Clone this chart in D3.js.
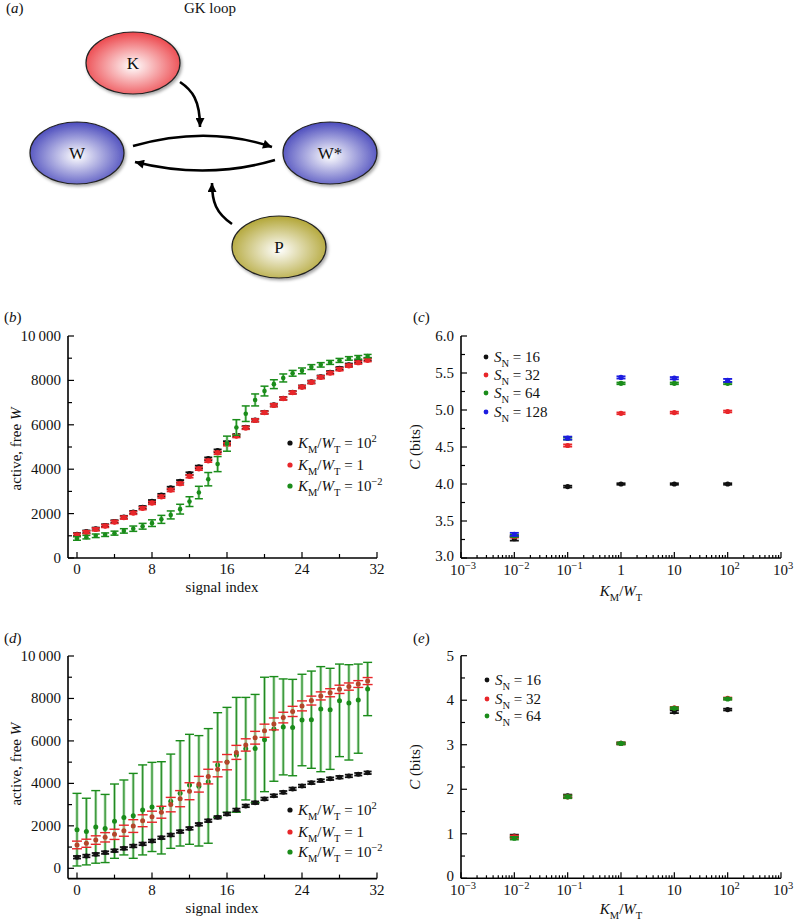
<!DOCTYPE html>
<html><head><meta charset="utf-8">
<script src="https://cdn.jsdelivr.net/npm/d3@7/dist/d3.min.js"></script>
<style>html,body{margin:0;padding:0;background:#fff}</style>
</head><body>
<script>
// ---------- DATA ----------
const signalIdx = d3.range(0, 32);
const linTicks = [0, 8, 16, 24, 32];
const wTicks = [0, 2000, 4000, 6000, 8000, 10000];
const wTickLabels = ["0", "2000", "4000", "6000", "8000", "10\u2009000"];
const logX = [0.01, 0.1, 1, 10, 100];
const logTicks = [1e-3, 1e-2, 1e-1, 1, 10, 100, 1000];
const logTickLabels = [["10", "\u22123"], ["10", "\u22122"], ["10", "\u22121"], ["1", ""], ["10", ""], ["10", "2"], ["10", "3"]];
const cTicks = [3.0, 3.5, 4.0, 4.5, 5.0, 5.5, 6.0];
const eTicks = [0, 1, 2, 3, 4, 5];

// panel b
const bHigh = [1060,1180,1310,1460,1640,1840,2060,2280,2550,2830,3150,3450,3800,4100,4470,4830,5200,5520,5880,6210,6560,6890,7190,7460,7710,7930,8160,8360,8540,8700,8850,8950];
const bHighErr = [60,60,60,60,60,60,60,60,60,60,60,60,60,60,60,60,60,60,60,60,60,60,60,60,60,60,60,60,60,60,60,60];
const bMid = [1040,1160,1290,1440,1620,1820,2030,2240,2480,2760,3060,3350,3680,4020,4380,4740,5120,5490,5860,6200,6550,6880,7180,7450,7700,7920,8140,8330,8500,8660,8800,8910];
const bMidErr = [60,60,60,60,60,60,60,60,60,60,60,60,60,60,60,60,60,60,60,60,60,60,60,60,60,60,60,60,60,60,60,60];
const bLow = [880,940,1000,1050,1120,1220,1320,1430,1570,1740,1940,2200,2540,2950,3550,4230,5150,5880,6500,7120,7520,7830,8110,8320,8430,8600,8700,8810,8900,8990,9040,9100];
const bLowErr = [80,80,80,80,90,100,120,130,150,180,180,220,220,280,300,340,340,350,350,270,220,200,180,130,130,110,100,90,90,80,80,70];

// panel c
const cS16 = [3.26, 3.965, 4.00, 4.00, 4.00];
const cS16Err = [0.025, 0.012, 0.01, 0.01, 0.01];
const cS32 = [3.29, 4.52, 4.955, 4.965, 4.98];
const cS32Err = [0.015, 0.015, 0.012, 0.012, 0.012];
const cS64 = [3.30, 4.615, 5.36, 5.36, 5.36];
const cS64Err = [0.015, 0.015, 0.012, 0.012, 0.012];
const cS128 = [3.32, 4.62, 5.44, 5.43, 5.40];
const cS128Err = [0.02, 0.02, 0.015, 0.015, 0.02];

// panel d
const dHigh = [520,580,660,740,830,940,1050,1150,1290,1440,1570,1730,1880,2070,2240,2400,2560,2750,2940,3090,3270,3420,3580,3740,3880,4030,4130,4220,4290,4350,4430,4500];
const dHighErr = [60,60,60,60,60,60,60,60,60,60,60,60,60,60,60,60,60,60,60,60,60,60,60,60,60,60,60,60,60,60,60,60];
const dMid = [1100,1180,1330,1460,1600,1770,1990,2240,2430,2640,3000,3280,3630,3960,4320,4660,5000,5460,5810,6150,6480,6800,7100,7390,7650,7900,8120,8270,8430,8560,8680,8820];
const dMidErr = [180,190,200,220,240,260,300,280,260,280,340,380,400,370,345,350,360,330,290,300,310,280,250,240,235,210,190,190,195,170,160,165];
const dLow = [1820,1730,1950,1870,2220,2390,2470,2750,2890,2850,3160,3530,3920,3870,4080,4860,5010,5340,5630,5640,6050,6560,6650,6630,6980,7000,7500,7470,7890,7790,7930,8440];
const dLowTop = [3530,3300,3660,3480,3970,4160,4470,4870,4990,5020,5380,6010,6310,6250,6580,7330,7580,8050,8050,8190,9000,9030,8920,8900,9140,9290,9500,9420,9620,9590,9620,9700];
const dLowBottom = [110,160,240,270,470,630,470,630,790,675,940,1050,1130,1050,1180,2400,2640,2640,3220,3090,3610,4100,4400,4360,4830,4710,4550,4660,5260,5100,5420,7190];

// panel e
const eS16 = [0.95, 1.85, 3.03, 3.74, 3.79];
const eS16Err = [0.03, 0.03, 0.02, 0.03, 0.02];
const eS32 = [0.93, 1.83, 3.03, 3.83, 4.04];
const eS32Err = [0.03, 0.03, 0.02, 0.02, 0.02];
const eS64 = [0.90, 1.83, 3.03, 3.82, 4.03];
const eS64Err = [0.03, 0.03, 0.02, 0.02, 0.02];

// ---------- STYLE ----------
const SERIF = "'Liberation Serif','DejaVu Serif',serif";
const BLACK = "#111", RED = "#e8262a", GREEN = "#1a8c1a", BLUE = "#1c1ce0";

const svg = d3.select("body").append("svg").attr("width", 794).attr("height", 924)
  .style("background", "#fff");

function rich(g, x, y, parts, size, anchor) {
  const t = g.append("text").attr("x", x).attr("y", y)
    .attr("font-family", SERIF).attr("font-size", size).attr("fill", "#111")
    .attr("text-anchor", anchor || "start");
  let shift = 0;
  parts.forEach(p => {
    const target = p.sub ? size * 0.32 : p.sup ? -size * 0.42 : 0;
    const ts = t.append("tspan").text(p.t).attr("dy", target - shift);
    if (p.sub || p.sup) ts.attr("font-size", size * 0.7);
    if (p.i) ts.attr("font-style", "italic");
    shift = target;
  });
  return t;
}
function plain(g, x, y, s, size, anchor, italic) {
  return g.append("text").attr("x", x).attr("y", y).text(s)
    .attr("font-family", SERIF).attr("font-size", size).attr("fill", "#111")
    .attr("text-anchor", anchor || "start").attr("font-style", italic ? "italic" : "normal");
}

// ---------- PANEL A ----------
const defs = svg.append("defs");
function grad(id, edge) {
  const gr = defs.append("radialGradient").attr("id", id)
    .attr("cx", "50%").attr("cy", "55%").attr("r", "62%");
  gr.append("stop").attr("offset", "0%").attr("stop-color", "#ffffff");
  gr.append("stop").attr("offset", "100%").attr("stop-color", edge);
}
grad("gK", "#ea2e34");
grad("gW", "#3434b4");
grad("gP", "#a89a1c");
const sh = defs.append("filter").attr("id", "shadow").attr("x", "-20%").attr("y", "-20%").attr("width", "150%").attr("height", "150%");
sh.append("feDropShadow").attr("dx", 1.5).attr("dy", 2).attr("stdDeviation", 1.5).attr("flood-color", "#000").attr("flood-opacity", 0.35);
defs.append("marker").attr("id", "arr").attr("viewBox", "0 0 10 10").attr("refX", 10).attr("refY", 5)
  .attr("markerWidth", 11).attr("markerHeight", 9).attr("markerUnits", "userSpaceOnUse").attr("orient", "auto")
  .append("path").attr("d", "M0,0 L10,5 L0,10 Z").attr("fill", "#000");

const nodes = [
  { id: "K", cx: 133, cy: 63, fill: "url(#gK)" },
  { id: "W", cx: 77, cy: 153, fill: "url(#gW)" },
  { id: "W*", cx: 330, cy: 153, fill: "url(#gW)" },
  { id: "P", cx: 279, cy: 247, fill: "url(#gP)" }
];
const ga = svg.append("g");
rich(ga, 6, 13, [{ t: "(" }, { t: "a", i: true }, { t: ")" }], 15);
plain(ga, 210, 13, "GK loop", 15, "middle");
nodes.forEach(n => {
  ga.append("ellipse").attr("cx", n.cx).attr("cy", n.cy).attr("rx", 47).attr("ry", 31)
    .attr("fill", n.fill).attr("stroke", "#222").attr("stroke-width", 1.2).attr("filter", "url(#shadow)");
  plain(ga, n.cx, n.cy + 6, n.id, 17, "middle");
});
const arrows = [
  "M180,82 C192,90 200,100 200,127",
  "M133,146 Q207,125 272,147",
  "M275,160 Q207,180 135,162",
  "M232,224 C216,213 212,202 212,183"
];
arrows.forEach(d => ga.append("path").attr("d", d).attr("fill", "none").attr("stroke", "#000")
  .attr("stroke-width", 2.6).attr("marker-end", "url(#arr)"));

// ---------- PLOT HELPERS ----------
function axisLines(g, xr, yr) {
  g.append("line").attr("x1", xr[0]).attr("x2", xr[1]).attr("y1", yr[0]).attr("y2", yr[0])
    .attr("stroke", "#000").attr("stroke-width", 1.6);
  g.append("line").attr("x1", xr[0]).attr("x2", xr[0]).attr("y1", yr[0]).attr("y2", yr[1])
    .attr("stroke", "#000").attr("stroke-width", 1.6);
}
function tick(g, x1, y1, x2, y2) {
  g.append("line").attr("x1", x1).attr("y1", y1).attr("x2", x2).attr("y2", y2)
    .attr("stroke", "#000").attr("stroke-width", 1.2);
}
function errSeries(g, x, y, xs, s) {
  const opts = s.opts || {};
  const color = s.color;
  const hw = opts.cap || 4;
  xs.forEach((xv, i) => {
    const px = x(xv);
    const loV = s.lo ? s.lo[i] : s.vals[i] - s.errs[i];
    const hiV = s.hi ? s.hi[i] : s.vals[i] + s.errs[i];
    const lo = y(loV), hi = y(hiV);
    if (opts.band) {
      g.append("line").attr("x1", px).attr("x2", px).attr("y1", lo).attr("y2", hi)
        .attr("stroke", opts.band).attr("stroke-width", opts.bandWidth || 3);
    }
    g.append("line").attr("x1", px).attr("x2", px).attr("y1", lo).attr("y2", hi)
      .attr("stroke", opts.barColor || color).attr("stroke-width", opts.barWidth || 1.2);
    [lo, hi].forEach(yy => g.append("line").attr("x1", px - hw).attr("x2", px + hw).attr("y1", yy).attr("y2", yy)
      .attr("stroke", opts.capColor || color).attr("stroke-width", opts.capWidth || 1.8));
    g.append("circle").attr("cx", px).attr("cy", y(s.vals[i])).attr("r", opts.r || 2.7)
      .attr("fill", opts.dot || color);
  });
}

// ---------- LINEAR PANELS (b, d) ----------
function linearPanel(top, label, series, legendY) {
  const g = svg.append("g");
  const x = d3.scaleLinear().domain([0, 32]).range([77, 377]);
  const y = d3.scaleLinear().domain([0, 10000]).range([top.y0, top.y10]);
  const yBottom = top.ymin;
  axisLines(g, [x(-0.96), x(32)], [yBottom, y(10000)]);
  d3.range(0, 33, 4).forEach(v => {
    const major = v % 8 === 0;
    tick(g, x(v), yBottom, x(v), yBottom - (major ? 6 : 4));
  });
  linTicks.forEach(v => plain(g, x(v), yBottom + 16, String(v), 15, "middle"));
  d3.range(0, 10001, 1000).forEach(v => {
    const major = v % 2000 === 0;
    tick(g, x(-0.96), y(v), x(-0.96) + (major ? 6 : 4), y(v));
  });
  wTicks.forEach((v, i) => plain(g, 61, y(v) + 5, wTickLabels[i], 15, "end"));
  rich(g, 0, 0, [{ t: "active, free " }, { t: "W", i: true }], 15, "middle")
    .attr("transform", `translate(21,${(top.y0 + top.y10) / 2 + 2}) rotate(-90)`);
  plain(g, 222, yBottom + 34, "signal index", 15, "middle");
  rich(g, 4, top.labelY, [{ t: "(" }, { t: label, i: true }, { t: ")" }], 15);
  series.forEach(s => errSeries(g, x, y, signalIdx, s));
  const legend = [
    { c: BLACK, sup: "2" }, { c: RED, sup: null }, { c: GREEN, sup: "\u22122" }
  ];
  legend.forEach((l, i) => {
    const ly = legendY[i];
    g.append("circle").attr("cx", 290).attr("cy", ly).attr("r", 2.6).attr("fill", l.c);
    const parts = [{ t: "K", i: true }, { t: "M", sub: true }, { t: "/" }, { t: "W", i: true }, { t: "T", sub: true }];
    if (l.sup) { parts.push({ t: " = 10" }); parts.push({ t: l.sup, sup: true }); }
    else parts.push({ t: " = 1" });
    rich(g, 298, ly + 5, parts, 15);
  });
}

linearPanel({ y0: 558, y10: 336, ymin: 558, labelY: 322 }, "b", [
  { vals: bHigh, errs: bHighErr, color: BLACK, opts: { r: 2.7 } },
  { vals: bMid, errs: bMidErr, color: RED, opts: { r: 2.7 } },
  { vals: bLow, errs: bLowErr, color: GREEN, opts: { r: 2.3, band: "#9ad49a", bandWidth: 2.6, barWidth: 1.1, capWidth: 1.5 } }
], [443, 465, 486]);

linearPanel({ y0: 868.3, y10: 656, ymin: 878.6, labelY: 643 }, "d", [
  { vals: dLow, lo: dLowBottom, hi: dLowTop, color: GREEN, opts: { r: 2.5, band: "#9cd49c", bandWidth: 2.8, barColor: "#157f15", barWidth: 0.9, capWidth: 1.4, cap: 4.5 } },
  { vals: dMid, errs: dMidErr, color: RED, opts: { r: 2.5, dot: "#b4452a", barColor: "#eea098", barWidth: 0.9, capWidth: 1.4, cap: 5 } },
  { vals: dHigh, errs: dHighErr, color: BLACK, opts: { r: 2.5 } }
], [810, 832, 852]);

// ---------- LOG PANELS (c, e) ----------
function logPanel(cfg) {
  const g = svg.append("g");
  const x = d3.scaleLog().domain([1e-3, 1e3]).range([461, 781]);
  const y = d3.scaleLinear().domain(cfg.ydom).range([cfg.y0, cfg.y1]);
  axisLines(g, [461, 781], [cfg.y0, cfg.y1]);
  for (let e = -3; e <= 3; e++) {
    const base = Math.pow(10, e);
    tick(g, x(base), cfg.y0, x(base), cfg.y0 - 6);
    if (e < 3) for (let m = 2; m <= 9; m++) tick(g, x(base * m), cfg.y0, x(base * m), cfg.y0 - 3);
  }
  logTicks.forEach((v, i) => {
    const lab = logTickLabels[i];
    const parts = [{ t: lab[0] }];
    if (lab[1]) parts.push({ t: lab[1], sup: true });
    rich(g, x(v) + (lab[1] ? 2 : 0), cfg.y0 + 17, parts, 15, "middle");
  });
  cfg.minor.forEach(v => tick(g, 461, y(v), 465, y(v)));
  cfg.ticks.forEach(v => {
    tick(g, 461, y(v), 467, y(v));
    plain(g, 454, y(v) + (v === cfg.ydom[0] ? 3 : 5), cfg.fmt(v), 15, "end");
  });
  rich(g, 0, 0, [{ t: "C", i: true }, { t: " (bits)" }], 15, "middle")
    .attr("transform", `translate(420,${(cfg.y0 + cfg.y1) / 2}) rotate(-90)`);
  rich(g, 621, cfg.xlabY, [{ t: "K", i: true }, { t: "M", sub: true }, { t: "/" }, { t: "W", i: true }, { t: "T", sub: true }], 15, "middle");
  rich(g, 413, cfg.labelY, [{ t: "(" }, { t: cfg.label, i: true }, { t: ")" }], 15);
  cfg.series.forEach(s => errSeries(g, x, y, logX, { vals: s.vals, errs: s.errs, color: s.color, opts: { r: 2.6, cap: 4.5, capWidth: 1.8 } }));
  cfg.series.forEach((s, i) => {
    const ly = cfg.legendY[i];
    g.append("circle").attr("cx", cfg.legX).attr("cy", ly).attr("r", 2.4).attr("fill", s.color);
    rich(g, cfg.legX + 8, ly + 5, [{ t: "S", i: true }, { t: "N", sub: true }, { t: " = " + s.name }], 15);
  });
}

logPanel({
  label: "c", labelY: 322, ydom: [3, 6], y0: 558, y1: 336, xlabY: 596,
  ticks: cTicks, minor: d3.range(3.25, 6, 0.5), fmt: v => v.toFixed(1),
  legX: 486, legendY: [357, 375, 393, 412],
  series: [
    { name: "16", vals: cS16, errs: cS16Err, color: BLACK },
    { name: "32", vals: cS32, errs: cS32Err, color: RED },
    { name: "64", vals: cS64, errs: cS64Err, color: GREEN },
    { name: "128", vals: cS128, errs: cS128Err, color: BLUE }
  ]
});

logPanel({
  label: "e", labelY: 643, ydom: [0, 5], y0: 878.3, y1: 655.7, xlabY: 914,
  ticks: eTicks, minor: d3.range(0.5, 5, 1), fmt: v => String(v),
  legX: 487, legendY: [680, 699, 716],
  series: [
    { name: "16", vals: eS16, errs: eS16Err, color: BLACK },
    { name: "32", vals: eS32, errs: eS32Err, color: RED },
    { name: "64", vals: eS64, errs: eS64Err, color: GREEN }
  ]
});
</script>
</body></html>
